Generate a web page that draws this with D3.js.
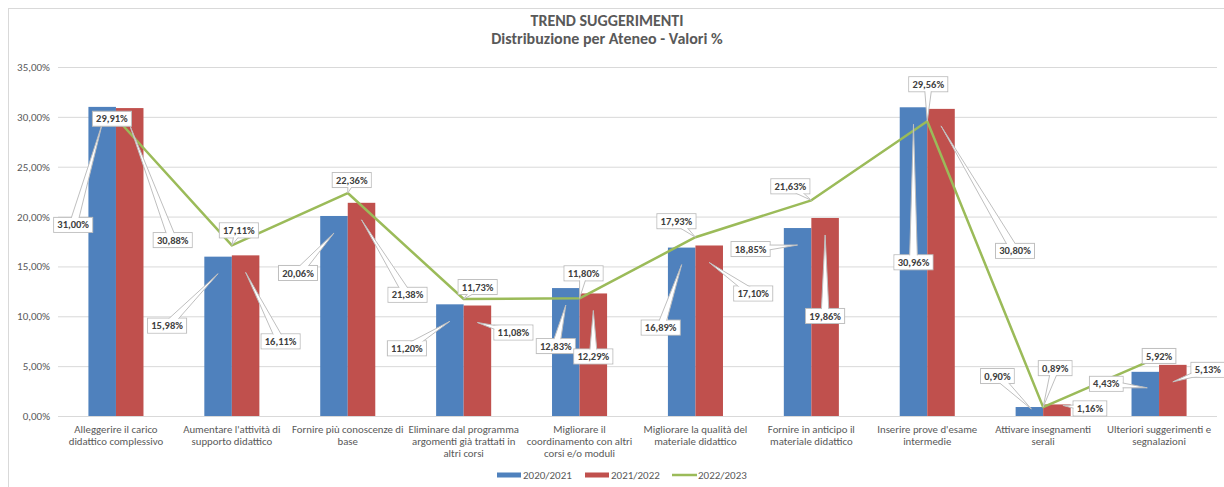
<!DOCTYPE html>
<html>
<head>
<meta charset="utf-8">
<script src="https://cdn.jsdelivr.net/npm/d3@7"></script>
<style>
  body { margin: 0; background: #fff; }
  svg { display: block; font-family: Carlito, Calibri, Lato, sans-serif; }
</style>
</head>
<body>
<div id="chart"></div>
<script>
// categories (line breaks as in the original axis)
var categories = [
  "Alleggerire il carico\ndidattico complessivo",
  "Aumentare l'attività di\nsupporto didattico",
  "Fornire più conoscenze di\nbase",
  "Eliminare dal programma\nargomenti già trattati in\naltri corsi",
  "Migliorare il\ncoordinamento con altri\ncorsi e/o moduli",
  "Migliorare la qualità del\nmateriale didattico",
  "Fornire in anticipo il\nmateriale didattico",
  "Inserire prove d'esame\nintermedie",
  "Attivare insegnamenti\nserali",
  "Ulteriori suggerimenti e\nsegnalazioni"
];
var seriesNames = ["2020/2021", "2021/2022", "2022/2023"];
var values2021 = [31.00, 15.98, 20.06, 11.20, 12.83, 16.89, 18.85, 30.96, 0.90, 4.43];
var values2022 = [30.88, 16.11, 21.38, 11.08, 12.29, 17.10, 19.86, 30.80, 1.16, 5.13];
var values2023 = [29.91, 17.11, 22.36, 11.73, 11.80, 17.93, 21.63, 29.56, 0.89, 5.92];
var yTicks = [0, 5, 10, 15, 20, 25, 30, 35];

// where the callouts sit, relative to their point (pixels)
var boxOff2021 = [[-29,118],[-51,69],[-36,57],[-43,44],[-10,58],[-21,80],[-47,21],[0,155],[-32,-31],[-39,12]];
var boxOff2022 = [[43,132],[35,86],[46,92],[36,27],[0,63],[44,48],[0,98],[74,142],[33,4],[35,5]];
var boxOff2023 = [[-4,1],[7,-15],[4,-13],[14,-12],[4,-25],[-19,-16],[-21,-14],[1,-37],[12,-39],[0,-1]];
var tipOff2021 = {8: [2,2], 9: [2,16]};
var tipOff2022 = {8: [6,1]};

var colors = ["#4F81BD", "#C0504D", "#9BBB59"];

var width = 1224, height = 487;
var plotLeft = 58, plotRight = 1217, plotTop = 67, plotBottom = 416;

var svg = d3.select("#chart").append("svg")
    .attr("width", width)
    .attr("height", height);

// chart frame
svg.append("rect")
    .attr("x", 8.5).attr("y", 8.5)
    .attr("width", 1400).attr("height", 700)
    .attr("fill", "#fff")
    .attr("stroke", "#D9D9D9");

// title
var title = svg.append("text")
    .attr("text-anchor", "middle")
    .attr("fill", "#595959")
    .attr("font-weight", "bold")
    .attr("font-size", "16px");
title.append("tspan").attr("x", 607).attr("y", 26).text("TREND SUGGERIMENTI");
title.append("tspan").attr("x", 607).attr("y", 44).text("Distribuzione per Ateneo - Valori %");

var y = d3.scaleLinear().domain([0, 35]).range([plotBottom, plotTop]);

var x0 = d3.scaleBand()
    .domain(d3.range(categories.length))
    .range([plotLeft, plotRight])
    .paddingInner(0.525)
    .paddingOuter(0.2625);

var x1 = d3.scaleBand()
    .domain([0, 1])
    .range([0, x0.bandwidth()]);

var it = d3.formatLocale({decimal: ",", thousands: ".", grouping: [3], currency: ["", "€"]});
var fmt = it.format(".2f");

// gridlines + y labels
var yAxis = d3.axisLeft(y)
    .tickValues(yTicks)
    .tickSize(-(plotRight - plotLeft))
    .tickPadding(8)
    .tickFormat(function(d) { return fmt(d) + "%"; });

var gy = svg.append("g")
    .attr("transform", "translate(" + plotLeft + ",0)")
    .call(yAxis);
gy.select(".domain").remove();
gy.selectAll("line").attr("stroke", "#D9D9D9");
gy.selectAll("text")
    .attr("fill", "#595959")
    .attr("font-size", "11px")
    .attr("font-family", "Carlito, Calibri, Lato, sans-serif");

// bars
var barData = [values2021, values2022];
barData.forEach(function(vals, s) {
  svg.append("g").selectAll("rect")
      .data(vals)
      .enter().append("rect")
        .attr("x", function(d, i) { return x0(i) + x1(s); })
        .attr("y", function(d) { return y(d); })
        .attr("width", x1.bandwidth())
        .attr("height", function(d) { return plotBottom - y(d); })
        .attr("fill", colors[s]);
});

// category labels
var gx = svg.append("g");
categories.forEach(function(c, i) {
  var t = gx.append("text")
      .attr("text-anchor", "middle")
      .attr("fill", "#595959")
      .attr("font-size", "10.8px");
  c.split("\n").forEach(function(line, k) {
    t.append("tspan")
      .attr("x", x0(i) + x0.bandwidth() / 2)
      .attr("y", 433 + k * 12)
      .text(line);
  });
});

// 2022/2023 line
var line = d3.line()
    .x(function(d, i) { return x0(i) + x0.bandwidth() / 2; })
    .y(function(d) { return y(d); });

svg.append("path")
    .datum(values2023)
    .attr("fill", "none")
    .attr("stroke", colors[2])
    .attr("stroke-width", 2.5)
    .attr("stroke-linejoin", "round")
    .attr("d", line);

// callout labels
var labels = svg.append("g");

function callout(ax, ay, off, tip, v) {
  var g = labels.append("g");
  var cx = ax + off[0], cy = ay + off[1];
  var txt = g.append("text")
      .attr("x", cx).attr("y", cy + 3.6)
      .attr("text-anchor", "middle")
      .attr("font-size", "10.5px")
      .attr("font-weight", "bold")
      .attr("fill", "#404040")
      .text(fmt(v) + "%");
  var bb = txt.node().getBBox();
  var w = bb.width + 7, h = 15;
  var tx = ax + tip[0], ty = ay + tip[1];
  var rx = cx - w / 2, ry = cy - h / 2;

  g.insert("rect", "text")
      .attr("x", rx).attr("y", ry).attr("width", w).attr("height", h)
      .attr("fill", "#fff").attr("stroke", "#BFBFBF");

  var dx = tx - cx, dy = ty - cy, len = Math.sqrt(dx * dx + dy * dy);
  var inside = Math.abs(dx) <= w / 2 && Math.abs(dy) <= h / 2;
  if (!inside && len > 0) {
    var px = -dy / len * 4, py = dx / len * 4;
    g.insert("path", "text")
        .attr("d", "M" + (cx + px) + "," + (cy + py) + "L" + tx + "," + ty + "L" + (cx - px) + "," + (cy - py) + "Z")
        .attr("fill", "#fff").attr("stroke", "#BFBFBF");
    g.insert("rect", "text")
        .attr("x", rx + 0.6).attr("y", ry + 0.6).attr("width", w - 1.2).attr("height", h - 1.2)
        .attr("fill", "#fff");
  }
}

values2021.forEach(function(v, i) {
  var ax = x0(i) + x1(0) + x1.bandwidth() / 2;
  callout(ax, y(v), boxOff2021[i], tipOff2021[i] || [0, 17], v);
});
values2022.forEach(function(v, i) {
  var ax = x0(i) + x1(1) + x1.bandwidth() / 2;
  callout(ax, y(v), boxOff2022[i], tipOff2022[i] || [0, 17], v);
});
values2023.forEach(function(v, i) {
  var ax = x0(i) + x0.bandwidth() / 2;
  callout(ax, y(v), boxOff2023[i], [0, 0], v);
});

// legend
var legend = svg.append("g").attr("font-size", "11px").attr("fill", "#595959");
var legX = [497, 585, 672];
seriesNames.forEach(function(name, s) {
  var g = legend.append("g").attr("transform", "translate(" + legX[s] + ",475)");
  if (s < 2) {
    g.append("rect").attr("x", 0).attr("y", -2.5).attr("width", 24).attr("height", 5).attr("fill", colors[s]);
  } else {
    g.append("line").attr("x1", 0).attr("x2", 25).attr("y1", 0).attr("y2", 0)
      .attr("stroke", colors[s]).attr("stroke-width", 2.5);
  }
  g.append("text").attr("x", 26).attr("y", 3.8).attr("fill", "#595959").text(name);
});
</script>
</body>
</html>
